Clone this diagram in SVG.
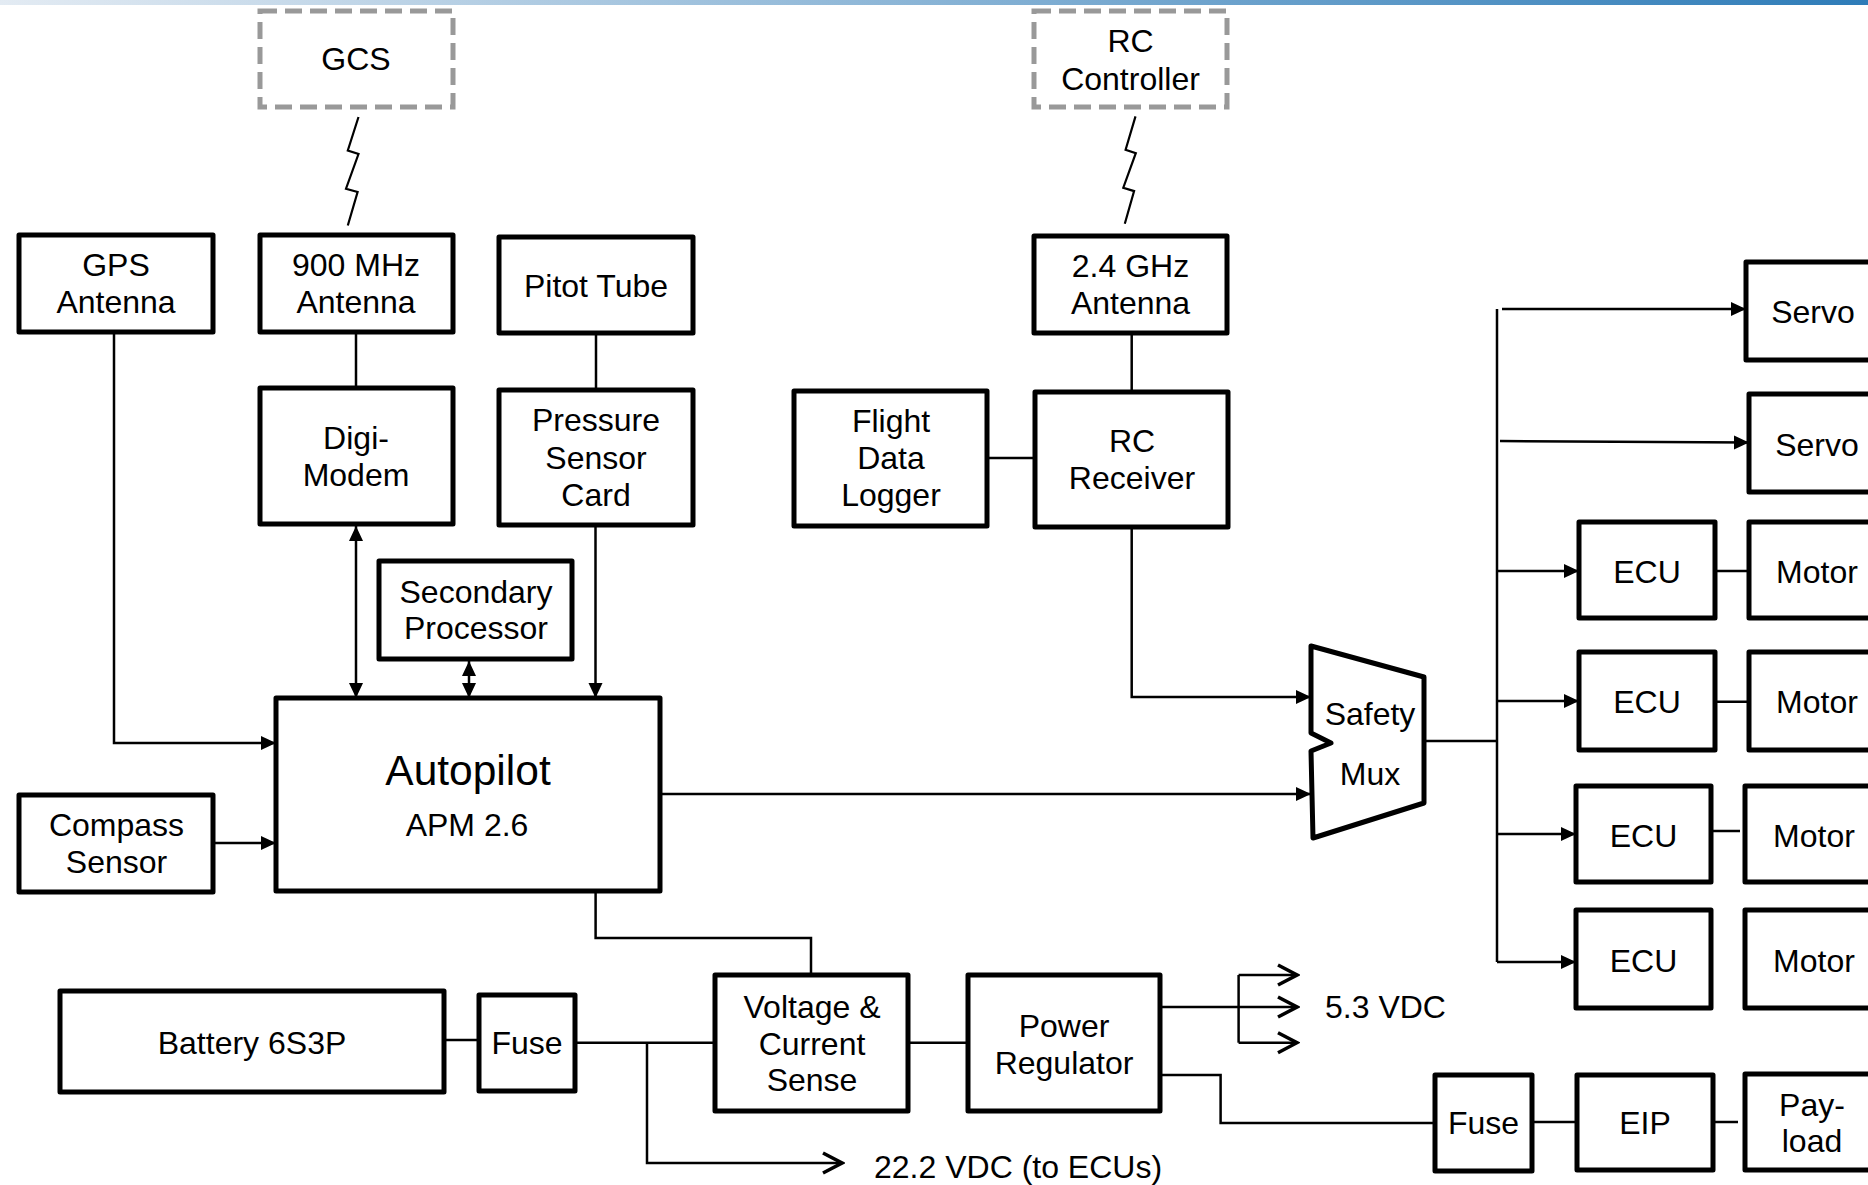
<svg xmlns="http://www.w3.org/2000/svg" width="1868" height="1185" viewBox="0 0 1868 1185">
<style>
.box{fill:#fff;stroke:#000;stroke-width:5;stroke-linejoin:round}
.ext{fill:#fff;stroke:#999;stroke-width:5;stroke-dasharray:17 8}
.t{font-family:"Liberation Sans",Arial,sans-serif;font-size:32px;fill:#000;text-anchor:middle}
.tl{font-family:"Liberation Sans",Arial,sans-serif;font-size:32px;fill:#000}
.c{fill:none;stroke:#000;stroke-width:2.5}
.z{fill:none;stroke:#000;stroke-width:2.2}
</style>
<defs>
<linearGradient id="bar" x1="0" y1="0" x2="1" y2="0">
<stop offset="0" stop-color="#e3ebf3"/>
<stop offset="1" stop-color="#2e7cb8"/>
</linearGradient>
<marker id="a" markerUnits="userSpaceOnUse" markerWidth="16" markerHeight="16" refX="15" refY="7" orient="auto-start-reverse">
<path d="M0,0 L15,7 L0,14 z" fill="#000"/>
</marker>
<marker id="o" markerUnits="userSpaceOnUse" markerWidth="24" markerHeight="26" refX="21" refY="12" orient="auto">
<path d="M2,2 L21,12 L2,22" fill="none" stroke="#000" stroke-width="3.5"/>
</marker>
</defs>
<rect x="0" y="0" width="1868" height="1185" fill="#fff"/>
<rect x="0" y="0" width="1868" height="5" fill="url(#bar)"/>

<g id="connectors">
<polyline class="z" points="358.5,117 347.8,150.5 358.5,154 346,188.7 357.6,192 347.8,225.5"/>
<polyline class="z" points="1135.5,116.4 1125.6,149.8 1135.8,153.2 1123.3,187.7 1134.1,191.1 1124.8,223.8"/>
<path class="c" d="M356,332 V388"/>
<path class="c" d="M596,333 V390"/>
<path class="c" d="M1131.7,333 V392"/>
<path class="c" d="M987,458 H1035"/>
<path class="c" d="M114,332 V743 H276" marker-end="url(#a)"/>
<path class="c" d="M356,526 V698" marker-start="url(#a)" marker-end="url(#a)"/>
<path class="c" d="M469,661 V698" marker-start="url(#a)" marker-end="url(#a)"/>
<path class="c" d="M595.5,525 V698" marker-end="url(#a)"/>
<path class="c" d="M213,843 H276" marker-end="url(#a)"/>
<path class="c" d="M660,794 H1311" marker-end="url(#a)"/>
<path class="c" d="M1131.7,527 V697 H1311" marker-end="url(#a)"/>
<path class="c" d="M1424,741 H1497"/>
<path class="c" d="M1497,309 V962"/>
<path class="c" d="M1502,309 H1746" marker-end="url(#a)"/>
<path class="c" d="M1500,441 L1749,442.5" marker-end="url(#a)"/>
<path class="c" d="M1497,571 H1579" marker-end="url(#a)"/>
<path class="c" d="M1497,701 H1579" marker-end="url(#a)"/>
<path class="c" d="M1497,834 H1576" marker-end="url(#a)"/>
<path class="c" d="M1497,962 H1576" marker-end="url(#a)"/>
<path class="c" d="M1715,571 H1749"/>
<path class="c" d="M1715,701.7 H1749"/>
<path class="c" d="M1711,831 H1740"/>
<path class="c" d="M595.6,891 V938 H811 V975"/>
<path class="c" d="M444,1040 H479"/>
<path class="c" d="M575,1042.7 H715"/>
<path class="c" d="M647,1042.7 V1163 H842" marker-end="url(#o)"/>
<path class="c" d="M908,1042.7 H968"/>
<path class="c" d="M1160,1007 H1297" marker-end="url(#o)"/>
<path class="c" d="M1238.6,975 V1042.7"/>
<path class="c" d="M1238.6,975 H1297" marker-end="url(#o)"/>
<path class="c" d="M1238.6,1042.7 H1297" marker-end="url(#o)"/>
<path class="c" d="M1160,1075 H1220.6 V1123 H1435"/>
<path class="c" d="M1532,1122 H1577"/>
<path class="c" d="M1713,1122 H1738"/>
</g>

<g id="gcs"><rect class="ext" x="260" y="11" width="193" height="96"/><text class="t" x="356" y="70">GCS</text></g>
<g id="rc-controller"><rect class="ext" x="1034" y="11" width="193" height="96"/><text class="t" x="1130.5" y="52">RC</text><text class="t" x="1130.5" y="89.5">Controller</text></g>

<g id="gps-antenna"><rect class="box" x="19" y="235" width="194" height="97"/><text class="t" x="116" y="275.5">GPS</text><text class="t" x="116" y="313">Antenna</text></g>
<g id="antenna-900"><rect class="box" x="260" y="235" width="193" height="97"/><text class="t" x="356" y="275.5">900 MHz</text><text class="t" x="356" y="313">Antenna</text></g>
<g id="pitot-tube"><rect class="box" x="499" y="237" width="194" height="96"/><text class="t" x="596" y="297">Pitot Tube</text></g>
<g id="digi-modem"><rect class="box" x="260" y="388" width="193" height="136"/><text class="t" x="356" y="449">Digi-</text><text class="t" x="356" y="486">Modem</text></g>
<g id="pressure-sensor"><rect class="box" x="499" y="390" width="194" height="135"/><text class="t" x="596" y="431">Pressure</text><text class="t" x="596" y="469">Sensor</text><text class="t" x="596" y="506">Card</text></g>
<g id="antenna-24"><rect class="box" x="1034" y="236" width="193" height="97"/><text class="t" x="1130.5" y="277">2.4 GHz</text><text class="t" x="1130.5" y="314">Antenna</text></g>
<g id="flight-data-logger"><rect class="box" x="794" y="391" width="193" height="135"/><text class="t" x="891" y="432">Flight</text><text class="t" x="891" y="469">Data</text><text class="t" x="891" y="506">Logger</text></g>
<g id="rc-receiver"><rect class="box" x="1035" y="392" width="193" height="135"/><text class="t" x="1132" y="452">RC</text><text class="t" x="1132" y="489">Receiver</text></g>
<g id="secondary-processor"><rect class="box" x="379" y="561" width="193" height="98"/><text class="t" x="476" y="602.5">Secondary</text><text class="t" x="476" y="639">Processor</text></g>
<g id="autopilot"><rect class="box" x="276" y="698" width="384" height="193"/><text class="t" x="468" y="785" style="font-size:42.5px">Autopilot</text><text class="t" x="467" y="836">APM 2.6</text></g>
<g id="compass-sensor"><rect class="box" x="19" y="795" width="194" height="97"/><text class="t" x="116.5" y="836">Compass</text><text class="t" x="116.5" y="873">Sensor</text></g>
<g id="battery"><rect class="box" x="60" y="991" width="384" height="101"/><text class="t" x="252" y="1054">Battery 6S3P</text></g>
<g id="fuse-1"><rect class="box" x="479" y="995" width="96" height="96"/><text class="t" x="527" y="1054">Fuse</text></g>
<g id="voltage-current-sense"><rect class="box" x="715" y="975" width="193" height="136"/><text class="t" x="812" y="1018">Voltage &amp;</text><text class="t" x="812" y="1055">Current</text><text class="t" x="812" y="1091">Sense</text></g>
<g id="power-regulator"><rect class="box" x="968" y="975" width="192" height="136"/><text class="t" x="1064" y="1036.5">Power</text><text class="t" x="1064" y="1073.5">Regulator</text></g>
<g id="label-53"><text class="tl" x="1325" y="1018">5.3 VDC</text></g>
<g id="label-222"><text class="tl" x="874" y="1178">22.2 VDC (to ECUs)</text></g>
<g id="fuse-2"><rect class="box" x="1435" y="1075" width="97" height="96"/><text class="t" x="1483.5" y="1134">Fuse</text></g>
<g id="eip"><rect class="box" x="1577" y="1075" width="136" height="95"/><text class="t" x="1645" y="1134">EIP</text></g>
<g id="payload"><rect class="box" x="1745" y="1074" width="200" height="96"/><text class="t" x="1812" y="1116">Pay-</text><text class="t" x="1812" y="1152">load</text></g>
<g id="safety-mux"><polygon class="box" points="1311,646 1424,677 1424,803 1313,838 1311,751 1331,743 1311,733"/><text class="t" x="1370" y="725">Safety</text><text class="t" x="1370" y="785">Mux</text></g>
<g id="servo-1"><rect class="box" x="1746" y="262" width="200" height="98"/><text class="t" x="1813" y="323">Servo</text></g>
<g id="servo-2"><rect class="box" x="1749" y="394" width="200" height="98"/><text class="t" x="1817" y="456">Servo</text></g>
<g id="ecu-1"><rect class="box" x="1579" y="522" width="136" height="96"/><text class="t" x="1647" y="583">ECU</text></g>
<g id="motor-1"><rect class="box" x="1749" y="522" width="200" height="96"/><text class="t" x="1817" y="583">Motor</text></g>
<g id="ecu-2"><rect class="box" x="1579" y="652" width="136" height="98"/><text class="t" x="1647" y="713">ECU</text></g>
<g id="motor-2"><rect class="box" x="1749" y="652" width="200" height="98"/><text class="t" x="1817" y="713">Motor</text></g>
<g id="ecu-3"><rect class="box" x="1576" y="786" width="135" height="96"/><text class="t" x="1643.5" y="846.5">ECU</text></g>
<g id="motor-3"><rect class="box" x="1745" y="786" width="200" height="96"/><text class="t" x="1814" y="846.5">Motor</text></g>
<g id="ecu-4"><rect class="box" x="1576" y="910" width="135" height="98"/><text class="t" x="1643.5" y="972">ECU</text></g>
<g id="motor-4"><rect class="box" x="1745" y="910" width="200" height="98"/><text class="t" x="1814" y="972">Motor</text></g>
</svg>
